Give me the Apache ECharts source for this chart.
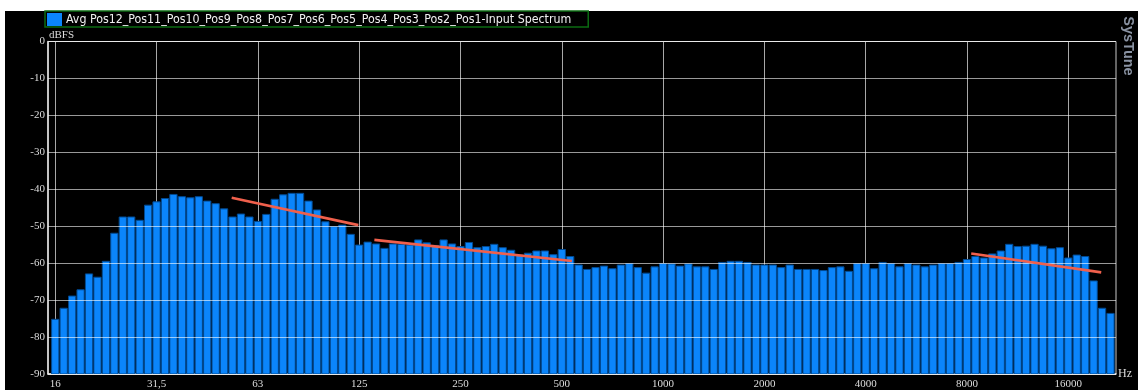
<!DOCTYPE html>
<html>
<head>
<meta charset="utf-8">
<script src="https://cdn.jsdelivr.net/npm/echarts@6/dist/echarts.min.js"></script>
<style>
  html, body { margin: 0; padding: 0; background: #ffffff; }
  #frame { position: absolute; left: 5px; top: 11px; width: 1133px; height: 379px; background: #000000; }
  #chart { position: absolute; left: 0; top: 0; width: 1138px; height: 390px; }
</style>
</head>
<body>
<div id="frame"></div>
<div id="chart"></div>
<script>
// 1/12-octave spectrum, one bar per band starting at 16 Hz (dBFS)
const spectrumDb = [
  -75.2, -72.2, -68.9, -67.2, -62.9, -63.8, -59.5, -51.9, -47.5, -47.5, -48.4, -44.3,
  -43.4, -42.5, -41.4, -42.0, -42.3, -42.0, -43.2, -43.9, -45.3, -47.5, -46.7, -47.5,
  -48.7, -46.8, -42.7, -41.5, -41.1, -41.1, -43.2, -45.6, -48.8, -50.1, -49.7, -52.2,
  -55.1, -54.3, -54.8, -56.0, -54.8, -54.9, -55.1, -53.7, -54.5, -55.2, -53.7, -54.8,
  -55.5, -54.4, -55.8, -55.5, -54.9, -55.8, -56.5, -57.8, -57.3, -56.7, -56.7, -57.7,
  -56.3, -58.2, -60.5, -61.7, -61.2, -60.8, -61.5, -60.5, -60.1, -61.2, -62.7, -61.0,
  -60.1, -60.2, -60.8, -60.2, -61.0, -61.0, -61.7, -59.8, -59.5, -59.5, -59.8, -60.5,
  -60.5, -60.5, -61.2, -60.5, -61.7, -61.7, -61.7, -62.0, -61.2, -61.0, -62.2, -60.1,
  -60.1, -61.5, -59.8, -60.1, -61.0, -60.1, -60.5, -61.0, -60.5, -60.1, -60.1, -59.8,
  -59.0, -58.2, -58.6, -57.5, -56.7, -54.9, -55.5, -55.4, -54.9, -55.4, -56.1, -55.8,
  -58.6, -57.8, -58.2, -64.8, -72.2, -73.6
];

// Octave tick labels; one label every 12 bands
const octaveLabels = ['16', '31,5', '63', '125', '250', '500', '1000', '2000', '4000', '8000', '16000'];
const bandsPerOctave = 12;

// Slope guides, as [band index, dBFS] pairs
const trendSegments = [
  [[20.9, -42.3], [35.9, -49.7]],
  [[37.8, -53.7], [61.2, -59.4]],
  [[108.5, -57.4], [123.9, -62.5]]
];

const seriesName = 'Avg Pos12_Pos11_Pos10_Pos9_Pos8_Pos7_Pos6_Pos5_Pos4_Pos3_Pos2_Pos1-Input Spectrum';
const yTicks = { min: -90, max: 0, step: 10 };

const octaveTickValues = octaveLabels.map((_, k) => k * bandsPerOctave);
const barData = spectrumDb.map((v, i) => [i, v]);

const labelFont = 'Liberation Serif, Times New Roman, serif';
const chart = echarts.init(document.getElementById('chart'), null, { renderer: 'canvas' });

const trendSeries = trendSegments.map(seg => ({
  type: 'line',
  data: seg,
  symbol: 'none',
  silent: true,
  z: 6,
  lineStyle: { color: '#f0604c', width: 2.6 },
  legendHoverLink: false
}));

chart.setOption({
  backgroundColor: 'transparent',
  animation: false,
  legend: {
    left: 45,
    top: 11,
    data: [{ name: seriesName, icon: 'rect' }],
    itemWidth: 15,
    itemHeight: 13,
    padding: [2, 17, 1, 2],
    borderColor: '#0b6b12',
    borderWidth: 1.5,
    backgroundColor: '#000',
    textStyle: {
      color: '#f0f0f0',
      fontFamily: 'Liberation Sans Narrow, Arial Narrow, DejaVu Sans Condensed, sans-serif',
      fontSize: 12.3,
      padding: [0, 0, 0, -1]
    }
  },
  grid: {
    left: 48,
    right: 22,
    top: 41.5,
    bottom: 16,
    show: true,
    borderColor: '#c8c8c8',
    borderWidth: 1
  },
  xAxis: {
    type: 'value',
    min: -0.86,
    max: spectrumDb.length - 1 + 0.65,
    name: 'Hz',
    nameLocation: 'end',
    nameGap: 2,
    nameTextStyle: { color: '#dcdcdc', fontFamily: labelFont, fontSize: 12, padding: [0, 0, 7, 0] },
    axisLine: { show: true, onZero: false, lineStyle: { color: '#e6e6e6', width: 1.5 } },
    axisTick: { show: false, customValues: octaveTickValues },
    axisLabel: {
      customValues: octaveTickValues,
      color: '#dcdcdc',
      fontFamily: labelFont,
      fontSize: 11,
      margin: 5,
      formatter: v => octaveLabels[Math.round(v / bandsPerOctave)] || ''
    },
    splitLine: { show: true, lineStyle: { color: '#a8a8a8', width: 1 } }
  },
  yAxis: {
    type: 'value',
    min: yTicks.min,
    max: yTicks.max,
    interval: yTicks.step,
    z: 4,
    axisLine: { show: true, onZero: false, lineStyle: { color: '#e6e6e6', width: 1.5 } },
    axisTick: { show: false },
    axisLabel: { color: '#dcdcdc', fontFamily: labelFont, fontSize: 11, margin: 3 },
    splitLine: { show: true, lineStyle: { color: 'rgba(255,255,255,0.6)', width: 1.2 } }
  },
  graphic: [{
    type: 'text',
    x: 49,
    y: 35,
    z: 10,
    style: {
      text: 'dBFS',
      fill: '#dcdcdc',
      font: '11px ' + labelFont,
      align: 'left',
      verticalAlign: 'middle'
    }
  }, {
    type: 'text',
    x: 1128,
    y: 46,
    rotation: -Math.PI / 2,
    style: {
      text: 'SysTune',
      fill: '#8a93a3',
      font: 'bold 14.5px Liberation Sans, Arial, sans-serif',
      align: 'center',
      verticalAlign: 'middle'
    }
  }],
  series: [{
    name: seriesName,
    type: 'custom',
    data: barData,
    clip: true,
    z: 2,
    itemStyle: { color: '#0b85fb' },
    encode: { x: 0, y: 1 },
    renderItem: (params, api) => {
      const i = api.value(0);
      const top = api.coord([i, api.value(1)]);
      const base = api.coord([i, yTicks.min]);
      const w = api.size([1, 0])[0];
      return {
        type: 'rect',
        shape: { x: top[0] - w / 2 + 0.6, y: top[1], width: w - 1.2, height: base[1] - top[1] },
        style: { fill: '#0b85fb', stroke: '#024a92', lineWidth: 1 }
      };
    }
  }].concat(trendSeries)
});
</script>
</body>
</html>
